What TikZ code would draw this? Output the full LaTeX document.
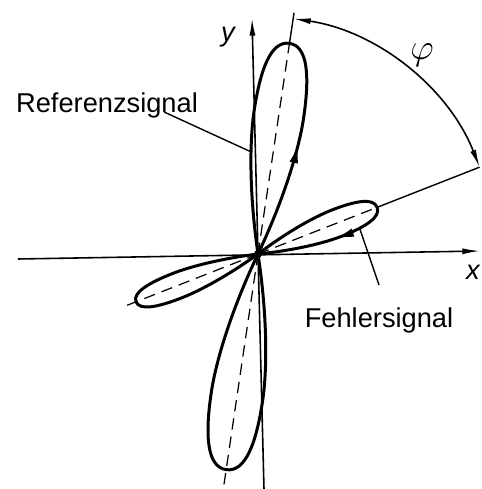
\documentclass[tikz,border=0pt]{standalone}
\usepackage{fontspec}
\setmainfont{Liberation Sans}
\usetikzlibrary{arrows.meta,decorations.markings}

\tikzset{
  lobe/.style={line width=1.7pt, line join=round},
  axisline/.style={line width=0.9pt, -{Latex[length=10pt,width=3.4pt]}},
  midline/.style={line width=0.7pt, dash pattern=on 6.5pt off 4pt},
  leader/.style={line width=0.8pt},
  lbl/.style={font=\fontsize{15.5}{18}\selectfont, inner sep=0pt},
  flow/.style={postaction={decorate, decoration={markings,
      mark=at position #1 with {\arrow{Latex[length=11pt,width=5pt]}}}}},
  backflow/.style={postaction={decorate, decoration={markings,
      mark=at position #1 with {\arrowreversed{Latex[length=11pt,width=5pt]}}}}},
}

\newcommand{\drawlobe}[4][]{%
  \draw[lobe,#1,rotate=#2] (0,0) .. controls (0.28*#3,-0.72*#4) and (0.52*#3,-#4) .. (0.66*#3,-#4)
    .. controls (0.86*#3,-#4) and (#3,-0.75*#4) .. (#3,0)
    .. controls (#3,0.75*#4) and (0.86*#3,#4) .. (0.66*#3,#4)
    .. controls (0.52*#3,#4) and (0.28*#3,0.72*#4) .. (0,0);}

\begin{document}
\begin{tikzpicture}[scale=2]

  \useasboundingbox (-2.58,-2.35) rectangle (2.24,2.54);

  \coordinate (O)  at (0,0);
  \coordinate (xL) at (-2.40,-0.05);
  \coordinate (xR) at (2.22,0.03);
  \coordinate (yB) at (0.06,-2.35);
  \coordinate (yT) at (-0.06,2.36);

  \draw[axisline] (xL) -- (xR);
  \draw[axisline] (yB) -- (yT);

  \node[lbl, font=\fontsize{15.5}{18}\selectfont\itshape] (xlab) at (2.15,-0.18) {x};
  \node[lbl, font=\fontsize{15.5}{18}\selectfont\itshape] (ylab) at (-0.30,2.17) {y};

  \coordinate (R1) at (81.5:2.13);
  \coordinate (R2) at (81.5:2.44);
  \coordinate (F1) at (21.4:1.28);
  \coordinate (F2) at (21.4:2.38);
  \coordinate (G1) at (201.4:1.43);
  \coordinate (S1) at (261.6:2.36);

  \draw[midline] (O) -- (R1);
  \draw[midline] (O) -- (F1);
  \draw[midline] (O) -- (G1);
  \draw[midline] (O) -- (S1);
  \draw[leader] (R1) -- (R2);
  \draw[leader] (F1) -- (F2);

  \drawlobe[flow=0.26]{81.5}{2.13}{0.25}
  \drawlobe[backflow=0.29]{21.4}{1.28}{0.14}
  \drawlobe{201.4}{1.31}{0.13}
  \drawlobe{261.6}{2.18}{0.26}

  \fill (O) circle (0.04);

  \draw[line width=0.9pt, {Latex[length=10pt,width=3.4pt]}-{Latex[length=10pt,width=3.4pt]}]
    (F2) arc (21.4:81.5:2.38);
  \node (phi) at (50.5:2.58) {\fontsize{20}{22}\selectfont$\varphi$};

  \path[rotate=81.5] (1.0,0.22) coordinate (refend);
  \path[rotate=21.4] (1.04,-0.135) coordinate (fehlend);

  \node[lbl] (ref)  at (-1.51,1.49) {Referenzsignal};
  \node[lbl] (fehl) at (1.21,-0.66) {Fehlersignal};

  \draw[leader] ([xshift=-3.4mm, yshift=0.6mm]ref.south east) -- (refend);
  \draw[leader] ([yshift=2.2mm]fehl.north) -- (fehlend);

\end{tikzpicture}
\end{document}
